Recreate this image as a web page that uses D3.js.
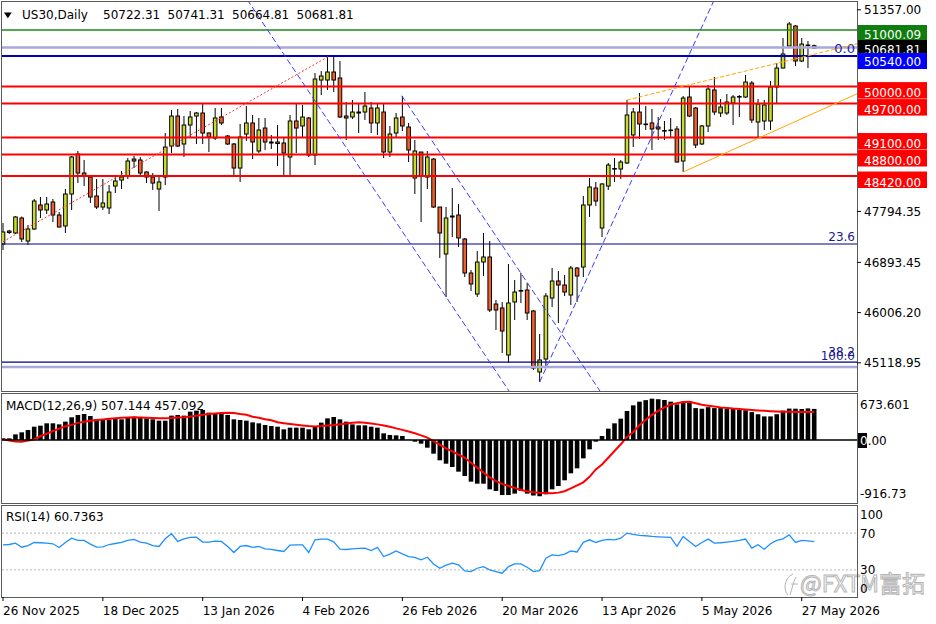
<!DOCTYPE html>
<html>
<head>
<meta charset="utf-8">
<script src="https://cdn.jsdelivr.net/npm/d3@7"></script>
<style>
  body { margin: 0; background: #fff; }
  svg { display: block; font-family: "DejaVu Sans", sans-serif; font-size: 12px; }
</style>
</head>
<body>
<svg id="chart" width="936" height="624"></svg>
<script>
// ---- daily US30 bars (bar 0 = 26 Nov 2025) ----
const opens = [47218, 47448, 47413, 47678, 47271, 47484, 47908, 47819, 47961, 47731,
  47537, 48102, 48809, 48473, 48402, 48067, 47872, 47855, 48243, 48349,
  48420, 48720, 48703, 48491, 48402, 48190, 48402, 48950, 49480, 48986,
  49321, 49480, 49533, 49180, 49092, 49463, 49127, 48986, 48561, 49162,
  49357, 48862, 49268, 49021, 49021, 49003, 48756, 49392, 49304, 49445,
  48791, 50116, 50116, 50258, 50152, 49480, 49463, 49551, 49551, 49622,
  49357, 49551, 48844, 49180, 49463, 49286, 48385, 48844, 48402, 48720,
  47872, 47042, 47713, 47731, 47307, 46706, 46335, 46900, 46989, 46158,
  46088, 45257, 46194, 46397, 46406, 46035, 44957, 45186, 46264, 46565,
  46494, 46317, 46794, 46812, 47908, 48208, 47501, 48243, 48553, 48544,
  48650, 49145, 49551, 49339, 49357, 49286, 49224, 49233, 49251, 48685,
  49816, 49622, 48986, 49304, 49940, 49533, 49533, 49710, 49825, 49816,
  50063, 49374, 49392, 49392, 49993, 50328, 50717, 51071, 50452, 50735,
  50722.31];
const highs = [47590, 47466, 47713, 47704, 47554, 48014, 48049, 48049, 48014, 47784,
  48190, 48774, 48862, 48703, 48420, 48367, 48367, 48261, 48420, 48508,
  48738, 48774, 48756, 48500, 48473, 48402, 49180, 49586, 49604, 49480,
  49569, 49551, 49692, 49189, 49622, 49622, 49145, 49003, 49339, 49657,
  49498, 49445, 49445, 49145, 49321, 49092, 49498, 49710, 49675, 49463,
  50240, 50275, 50540, 50540, 50452, 49728, 49763, 49710, 49904, 49728,
  49710, 49710, 49304, 49533, 49834, 49357, 49056, 48844, 48862, 48738,
  47872, 47872, 48208, 47925, 47325, 46759, 47095, 47413, 47271, 46229,
  46194, 46865, 46582, 46706, 46529, 46052, 45628, 46353, 46794, 46741,
  46671, 46830, 46812, 48067, 48385, 48314, 48296, 48650, 48738, 48703,
  49763, 49622, 49887, 49657, 49604, 49463, 49392, 49445, 49304, 49834,
  49993, 49639, 49321, 50028, 50169, 49781, 49869, 49851, 49851, 50205,
  50099, 49781, 49763, 50099, 50417, 50859, 51141, 51088, 50859, 50805,
  50741.31];
const lows = [47112, 47395, 47395, 47254, 47201, 47466, 47678, 47749, 47607, 47510,
  47413, 47819, 48296, 48243, 47943, 47837, 47819, 47749, 48120, 48190,
  48367, 48561, 48438, 48296, 48173, 47802, 48261, 48826, 48932, 48756,
  49109, 48986, 48986, 48844, 49056, 49321, 48968, 48438, 48314, 49039,
  48720, 48826, 48880, 48897, 48597, 48438, 48402, 48826, 49109, 48756,
  48614, 49851, 49940, 49904, 49445, 49056, 49427, 49180, 49410, 49180,
  49145, 48738, 48756, 49109, 49215, 48667, 48102, 47607, 48190, 47855,
  46971, 46282, 47342, 47166, 46635, 46388, 46282, 46653, 46017, 45699,
  45292, 45116, 45876, 46176, 45876, 44992, 44780, 45027, 46105, 45823,
  46300, 46141, 46194, 46635, 47696, 47890, 47342, 48173, 48314, 48367,
  48632, 48932, 49074, 49233, 48880, 49056, 49056, 49109, 48660, 48491,
  49463, 48915, 48968, 49198, 49498, 49463, 49498, 49321, 49463, 49798,
  49357, 49092, 49233, 49233, 49710, 50320, 50712, 50364, 50434, 50328,
  50664.81];
const closes = [47431, 47422, 47696, 47307, 47484, 47978, 47819, 47925, 47731, 47519,
  48102, 48756, 48473, 48420, 48049, 47872, 47943, 48137, 48332, 48402,
  48685, 48685, 48473, 48402, 48296, 48314, 48932, 49480, 48950, 49321,
  49463, 49533, 49180, 49109, 49445, 49357, 48986, 48561, 49109, 49357,
  49021, 49233, 49021, 49003, 48994, 48826, 49392, 49268, 49463, 48791,
  50134, 50187, 50258, 50116, 49463, 49445, 49551, 49533, 49657, 49357,
  49622, 48844, 49162, 49445, 49304, 48880, 48862, 48420, 48756, 47872,
  47413, 47678, 47696, 47325, 46706, 46512, 46900, 46989, 46052, 46052,
  45681, 46176, 46370, 46388, 45999, 45027, 45169, 46300, 46565, 46494,
  46370, 46794, 46653, 47908, 48226, 47978, 48279, 48614, 48544, 48667,
  49498, 49551, 49339, 49330, 49251, 49251, 49215, 49224, 48667, 49798,
  49480, 48968, 49304, 49957, 49551, 49639, 49728, 49816, 49816, 50081,
  49410, 49692, 49675, 49993, 50328, 50576, 51106, 50452, 50752, 50726,
  50681.81];

// MACD(12,26,9): histogram (main line) and signal
const macdMain = [27, 27, 92, 125, 163, 217, 234, 272, 272, 255,
  299, 370, 408, 424, 391, 337, 326, 337, 348, 337,
  370, 380, 370, 353, 337, 315, 315, 397, 408, 397,
  462, 478, 489, 446, 435, 446, 408, 337, 326, 315,
  288, 272, 245, 228, 217, 174, 201, 201, 201, 174,
  228, 283, 353, 375, 337, 299, 255, 239, 239, 217,
  201, 109, 82, 76, 65, 5, -27, -60, -125, -223,
  -331, -386, -440, -516, -587, -679, -712, -712, -804, -831,
  -897, -897, -874, -831, -874, -905, -916.73, -886, -804, -750,
  -657, -543, -462, -299, -152, -27, 65, 185, 272, 348,
  473, 565, 625, 650, 673.601, 665, 652, 625, 581, 625,
  636, 520, 510, 535, 520, 520, 510, 505, 495, 485,
  455, 420, 385, 385, 420, 480, 512, 510, 505, 515,
  507.144];
const macdSignal = [11, -9, -23, -27, -9, 9, 65, 102, 144, 186,
  223, 247, 279, 298, 315, 326, 335, 346, 354, 361,
  366, 370, 368, 363, 358, 355, 354, 358, 365, 372,
  382, 396, 410, 424, 433, 442, 445, 442, 424, 410,
  380, 363, 340, 321, 290, 275, 262, 250, 238, 228,
  222, 228, 238, 246, 258, 270, 282, 290, 282, 270,
  255, 235, 215, 190, 165, 140, 110, 75, 38, -20,
  -75, -135, -185, -240, -290, -370, -450, -530, -610, -670,
  -715, -750, -780, -815, -835, -850, -860, -866, -869, -858,
  -835, -790, -740, -690, -600, -480, -400, -290, -180, -70,
  50, 130, 240, 330, 410, 475, 530, 580, 600, 620,
  625, 600, 575, 560, 545, 532, 522, 512, 505, 498,
  490, 482, 475, 468, 463, 460, 459, 458, 457, 457,
  457.092];
const macdTickValues = [673.601, 0, -916.73];
const macdTickLabels = ["673.601", "0.00", "-916.73"];

// RSI(14)
const rsi = [57.3, 57.6, 59.1, 54.7, 56.5, 59.8, 59.5, 59.1, 58.4, 54.4,
  59.8, 64.5, 62.0, 62.0, 58.0, 54.7, 55.1, 57.6, 58.7, 59.8,
  62.0, 63.1, 60.2, 59.1, 56.5, 55.5, 63.8, 69.3, 60.9, 63.8,
  65.3, 65.6, 60.2, 60.2, 61.3, 60.9, 55.5, 48.9, 55.5, 56.5,
  54.4, 55.5, 52.9, 52.2, 51.1, 50.0, 56.9, 57.3, 57.3, 48.9,
  62.7, 63.5, 63.5, 60.5, 52.5, 52.2, 52.9, 53.3, 53.6, 51.1,
  54.4, 44.5, 47.1, 50.7, 47.5, 44.5, 43.5, 40.9, 43.8, 36.5,
  31.8, 35.1, 37.3, 35.5, 28.9, 28.2, 31.8, 33.6, 30.0, 28.2,
  26.4, 33.6, 36.5, 36.5, 32.9, 28.2, 29.3, 42.7, 46.4, 45.6,
  47.1, 50.5, 49.5, 60.0, 62.7, 59.8, 62.0, 63.1, 62.7, 64.5,
  70.0, 68.5, 67.5, 67.1, 66.4, 66.0, 65.6, 65.3, 55.5, 66.4,
  60.9, 55.5, 59.8, 63.5, 59.1, 59.5, 60.2, 60.9, 62.0, 63.5,
  53.6, 57.3, 52.5, 58.4, 62.0, 63.8, 68.2, 59.8, 62.0, 61.6,
  60.7363];
const rsiTicks = [100, 70, 30, 0];
const rsiLevels = [70, 30];

// axis labels
const priceTicks = [51357.00, 47794.35, 46893.45, 46006.20, 45118.95];
const dateTickBars = [0, 16, 32, 48, 64, 80, 96, 112, 128];
const dateTickLabels = ["26 Nov 2025", "18 Dec 2025", "13 Jan 2026", "4 Feb 2026", "26 Feb 2026",
  "20 Mar 2026", "13 Apr 2026", "5 May 2026", "27 May 2026"];

// drawn objects
const greenLevels = [51000.09];
const blueLevels = [50540];
const redLevels = [50000, 49700, 49100, 48800, 48420];
const fibNames = ["0.0", "23.6", "38.2", "100.0"];
const fibPrices = [50691, 47219, 45133, 45045];
const redTrend = [[0, 47259], [52.1, 50528]];          // dotted, segment
const channelA = [[52.4, 49351], [80.45, 44727]];       // extended both ways
const channelB = [[63.9, 49839], [95.35, 44674]];       // ray
const riseLine = [[86, 44780], [112.5, 51177]];         // ray
const orangeUpper = [[100, 49763], [133.9, 50677]];     // ray
const orangeLower = [[109, 48491], [136.8, 49869]];     // ray

// ---- layout ----
const svg = d3.select("#chart");
const L = 2, R = 857;
const mainP = { top: 2, bottom: 391 }, macdP = { top: 394, bottom: 503 }, rsiP = { top: 506, bottom: 597 };

const x = d3.scaleLinear().domain([0, 130]).range([3, 814.2]);
const y = d3.scaleLinear().domain([44621, 51495]).range([mainP.bottom, mainP.top]);
const yMacd = d3.scaleLinear().domain([-1027, 750]).range([macdP.bottom, macdP.top]);
const yRsi = d3.scaleLinear().domain([0, 100]).range([rsiP.bottom + 0.5, rsiP.top - 0.5]);
const fmt2 = d3.format(".2f");

const defs = svg.append("defs");
[["clipMain", mainP], ["clipMacd", macdP], ["clipRsi", rsiP]].forEach(([id, p]) => {
  defs.append("clipPath").attr("id", id).append("rect")
    .attr("x", L).attr("y", p.top).attr("width", R - L).attr("height", p.bottom - p.top);
});

svg.append("rect").attr("width", 936).attr("height", 624).attr("fill", "#fff");

// ---- main panel ----
const gMain = svg.append("g").attr("clip-path", "url(#clipMain)");

// candles
const bars = d3.range(opens.length);
const candles = gMain.append("g");
candles.selectAll("line.wick").data(bars).enter().append("line")
  .attr("x1", i => x(i)).attr("x2", i => x(i))
  .attr("y1", i => y(highs[i])).attr("y2", i => y(lows[i]))
  .attr("stroke", "#000").attr("stroke-width", 1);
candles.selectAll("rect.body").data(bars).enter().append("rect")
  .attr("x", i => x(i) - 1.8).attr("width", 3.6)
  .attr("y", i => Math.min(y(opens[i]), y(closes[i])))
  .attr("height", i => Math.max(Math.abs(y(opens[i]) - y(closes[i])), 0.6))
  .attr("fill", i => closes[i] >= opens[i] ? "#c9dc2c" : "#f0602a")
  .attr("stroke", "#000").attr("stroke-width", 1);

// horizontal levels
function hline(price, color, width) {
  gMain.append("line").attr("x1", L).attr("x2", R)
    .attr("y1", y(price)).attr("y2", y(price))
    .attr("stroke", color).attr("stroke-width", width);
}
fibPrices.forEach((p, k) => {
  const light = fibNames[k] === "0.0" || fibNames[k] === "100.0";
  hline(p, light ? "#a8a8dc" : "#000080", light ? 2.5 : 1.2);
});
greenLevels.forEach(p => hline(p, "#1a8a1a", 1.5));
blueLevels.forEach(p => hline(p, "#0000b4", 2));
redLevels.forEach(p => hline(p, "#ff0000", 2));

// fib labels
fibNames.forEach((name, k) => {
  const yy = y(fibPrices[k]);
  let base = yy - 3;
  if (name === "0.0") base = yy + 5.5;
  if (name === "38.2") base = yy - 6;
  if (name === "100.0") base = yy - 7;
  gMain.append("text").attr("x", 855).attr("y", base).attr("text-anchor", "end")
    .attr("fill", name === "0.0" ? "#2020b0" : "#1a1a90")
    .style("font-size", name === "0.0" ? "13px" : "12px").text(name);
});

// trend lines
function segLine(a, b, mode) {
  let x1 = x(a[0]), y1 = y(a[1]), x2 = x(b[0]), y2 = y(b[1]);
  const k = (y2 - y1) / (x2 - x1);
  if (mode === "ray" || mode === "both") { const xe = R + 5; y2 = y1 + k * (xe - x1); x2 = xe; }
  if (mode === "both") { const xs = L - 5; y1 = y1 + k * (xs - x1); x1 = xs; }
  return [x1, y1, x2, y2];
}
function drawTrend(pts, mode, color, dash, width) {
  const [x1, y1, x2, y2] = segLine(pts[0], pts[1], mode);
  gMain.append("line").attr("x1", x1).attr("y1", y1).attr("x2", x2).attr("y2", y2)
    .attr("stroke", color).attr("stroke-width", width || 1)
    .attr("stroke-dasharray", dash);
}
drawTrend(redTrend, "seg", "#ff3030", "2,2", 1);
drawTrend(channelA, "both", "#3a3aff", "6,3", 1);
drawTrend(channelB, "ray", "#3a3aff", "6,3", 1);
drawTrend(riseLine, "ray", "#3a3aff", "6,3", 1);
drawTrend(orangeUpper, "ray", "#ffa500", "4,2", 1);
drawTrend(orangeLower, "ray", "#ffa500", null, 1);

// header
svg.append("path").attr("d", "M4,12.5 L11.7,12.5 L7.85,18.3 Z").attr("fill", "#000");
svg.append("text").attr("x", 22).attr("y", 19).text("US30,Daily");
const last = opens.length - 1;
[opens[last], highs[last], lows[last], closes[last]].forEach((v, k) => {
  svg.append("text").attr("x", 103 + k * 64.5).attr("y", 19).text(fmt2(v));
});

// ---- MACD panel ----
const gMacd = svg.append("g").attr("clip-path", "url(#clipMacd)");
gMacd.selectAll("rect").data(bars).enter().append("rect")
  .attr("x", i => x(i) - 2.3).attr("width", 4.6)
  .attr("y", i => Math.min(yMacd(0), yMacd(macdMain[i])))
  .attr("height", i => Math.abs(yMacd(macdMain[i]) - yMacd(0)))
  .attr("fill", "#000");
gMacd.append("path").datum(bars)
  .attr("d", d3.line().x(i => x(i)).y(i => yMacd(macdSignal[i])))
  .attr("fill", "none").attr("stroke", "#ff0000").attr("stroke-width", 2);
svg.append("line").attr("x1", L).attr("x2", 858)
  .attr("y1", yMacd(0)).attr("y2", yMacd(0)).attr("stroke", "#000").attr("stroke-width", 1.5);
svg.append("text").attr("x", 6).attr("y", 410)
  .text("MACD(12,26,9) " + d3.format(".3f")(macdMain[last]) + " " + d3.format(".3f")(macdSignal[last]));

// ---- RSI panel ----
const gRsi = svg.append("g").attr("clip-path", "url(#clipRsi)");
rsiLevels.forEach(v => {
  gRsi.append("line").attr("x1", L).attr("x2", R).attr("y1", yRsi(v)).attr("y2", yRsi(v))
    .attr("stroke", "#b8b8b8").attr("stroke-dasharray", "2,2");
});
gRsi.append("path").datum(bars)
  .attr("d", d3.line().x(i => x(i)).y(i => yRsi(rsi[i])))
  .attr("fill", "none").attr("stroke", "#1e90ff").attr("stroke-width", 1.3);
svg.append("text").attr("x", 6).attr("y", 521).text("RSI(14) " + d3.format(".4f")(rsi[last]));

// watermark
const wm = svg.append("g").attr("fill", "#fff").attr("stroke", "#b4b4b4").attr("stroke-width", 1);
wm.append("path").attr("d", "M793,574 C784,578 783,590 788,595 M796,577 C793,583 792,589 790,595 M791,584 L798,584")
  .attr("fill", "none");
wm.append("text").attr("x", 800).attr("y", 592)
  .style("font-family", "'Noto Sans CJK SC', 'DejaVu Sans', sans-serif").style("font-size", "23px")
  .text("@FXTM富拓");

// ---- frames ----
[mainP, macdP, rsiP].forEach(p => {
  svg.append("rect").attr("x", L - 0.5).attr("y", p.top - 0.5)
    .attr("width", R - L + 1).attr("height", p.bottom - p.top + 1)
    .attr("fill", "none").attr("stroke", "#5a5a5a").attr("stroke-width", 1);
});

// ---- right axis ----
priceTicks.forEach(v => {
  const yy = y(v);
  svg.append("line").attr("x1", R).attr("x2", R + 4).attr("y1", yy).attr("y2", yy).attr("stroke", "#000");
  svg.append("text").attr("x", 864).attr("y", yy + 4.5).text(fmt2(v));
});

function priceTag(price, bg, top, bottom, base) {
  const yy = y(price);
  svg.append("rect").attr("x", 858).attr("y", yy + top).attr("width", 69).attr("height", bottom - top)
    .attr("fill", bg);
  svg.append("text").attr("x", 864).attr("y", yy + base).attr("fill", "#fff").text(fmt2(price));
}
priceTag(closes[last], "#000", -9, 5, 5.5);
greenLevels.forEach(p => priceTag(p, "#0f7d0f", -5, 10, 9));
blueLevels.forEach(p => priceTag(p, "#0000ff", -3, 13, 10));
redLevels.forEach(p => priceTag(p, "#ff0000", -4.5, 12, 10.5));

macdTickValues.forEach((v, k) => {
  const yy = Math.max(macdP.top + 10, Math.min(macdP.bottom - 10, yMacd(v)));
  if (v === 0) {
    svg.append("rect").attr("x", 858).attr("y", yy - 7).attr("width", 9).attr("height", 15).attr("fill", "#000");
    const t = svg.append("text").attr("x", 860).attr("y", yy + 4.5);
    t.append("tspan").attr("fill", "#fff").text(macdTickLabels[k].slice(0, 1));
    t.append("tspan").text(macdTickLabels[k].slice(1));
  } else {
    svg.append("text").attr("x", 860).attr("y", yy + 4.5).text(macdTickLabels[k]);
  }
});
rsiTicks.forEach(v => {
  const yy = Math.max(rsiP.top + 8, Math.min(rsiP.bottom - 9, yRsi(v)));
  svg.append("text").attr("x", 860).attr("y", yy + 4.5).text(v);
});

// ---- date axis ----
dateTickBars.forEach((b, k) => {
  svg.append("line").attr("x1", x(b)).attr("x2", x(b)).attr("y1", rsiP.bottom).attr("y2", rsiP.bottom + 4)
    .attr("stroke", "#000");
  svg.append("text").attr("x", x(b)).attr("y", 615).text(dateTickLabels[k]);
});
</script>
</body>
</html>
